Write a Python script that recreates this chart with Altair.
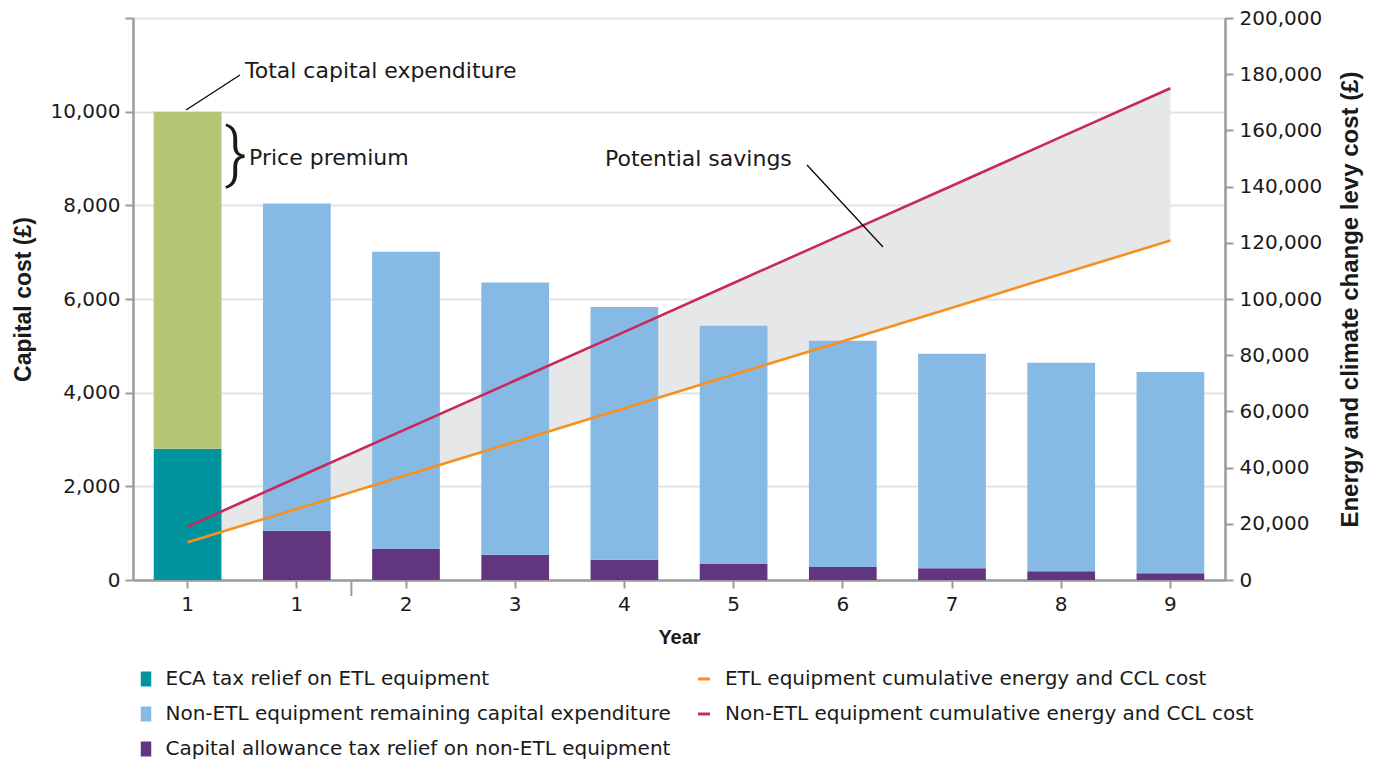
import altair as alt
import pandas as pd

# ---------------- data ----------------
categories = ["ETL-1", "1", "2", "3", "4", "5", "6", "7", "8", "9"]
tick_labels = ["1", "1", "2", "3", "4", "5", "6", "7", "8", "9"]

etl_eca_relief = 2800
etl_total_capex = 10000
nonetl_allowance = [1050, 660, 540, 430, 340, 275, 250, 185, 145]
nonetl_remaining_top = [8040, 7010, 6350, 5830, 5430, 5110, 4830, 4640, 4440]

etl_cum_cost = [13400, 25300, 37300, 49200, 61100, 73100, 85000, 96900, 108900, 120800]
nonetl_cum_cost = [19000, 36400, 53700, 71000, 88300, 105700, 123000, 140300, 157700, 175000]

bar_series = [
    "ECA tax relief on ETL equipment",
    "Non-ETL equipment remaining capital expenditure",
    "Capital allowance tax relief on non-ETL equipment",
    "Total capital expenditure",
]
bar_colors = ["#00959e", "#86b9e3", "#62357f", "#b4c573"]
line_series = [
    "ETL equipment cumulative energy and CCL cost",
    "Non-ETL equipment cumulative energy and CCL cost",
]
line_colors = ["#f7901e", "#c8285a"]

left_ticks = [0, 2000, 4000, 6000, 8000, 10000, 12000]
right_ticks = [0, 20000, 40000, 60000, 80000, 100000, 120000, 140000, 160000, 180000, 200000]

# ---------------- tables ----------------
bar_rows = [
    {"cat": categories[0], "series": bar_series[0], "y0": 0, "y1": etl_eca_relief},
    {"cat": categories[0], "series": bar_series[3], "y0": etl_eca_relief, "y1": etl_total_capex},
]
for c, a, t in zip(categories[1:], nonetl_allowance, nonetl_remaining_top):
    bar_rows.append({"cat": c, "series": bar_series[2], "y0": 0, "y1": a})
    bar_rows.append({"cat": c, "series": bar_series[1], "y0": a, "y1": t})
bars_df = pd.DataFrame(bar_rows)

area_df = pd.DataFrame({"cat": categories, "etl": etl_cum_cost, "nonetl": nonetl_cum_cost})
line_df = pd.concat([
    pd.DataFrame({"cat": categories, "series": line_series[0], "value": etl_cum_cost}),
    pd.DataFrame({"cat": categories, "series": line_series[1], "value": nonetl_cum_cost}),
])

# ---------------- style ----------------
W, H = 1092, 562
STEP = W / len(categories)
FONT = "DejaVu Sans"
BOLD_FONT = "Liberation Sans"
AXIS_GREY = "#9b9b9b"
TEXT = "#1a1a1a"

cat_list = "[" + ",".join(f"'{c}'" for c in categories) + "]"
lab_list = "[" + ",".join(f"'{l}'" for l in tick_labels) + "]"

x_scale = alt.Scale(domain=categories, type="band", paddingInner=0.38, paddingOuter=0.19)
x_axis = alt.Axis(
    title="Year", labelExpr=f"{lab_list}[indexof({cat_list}, datum.value)]",
    labelAngle=0, labelFont=FONT, labelFontSize=20, labelColor=TEXT, labelPadding=6,
    domainColor=AXIS_GREY, domainWidth=2.5, tickColor=AXIS_GREY, tickWidth=2, tickSize=8,
    titleFont=BOLD_FONT, titleFontWeight="bold", titleFontSize=20, titleColor=TEXT,
    titlePadding=13, grid=False,
)

left_scale = alt.Scale(domain=[0, 12000], nice=False)
right_scale = alt.Scale(domain=[0, 200000], nice=False)

left_axis = alt.Axis(
    title="Capital cost (£)", values=left_ticks,
    labelExpr="datum.value >= 12000 ? '' : format(datum.value, ',')",
    labelFont=FONT, labelFontSize=20, labelColor=TEXT, labelPadding=5,
    domainColor=AXIS_GREY, domainWidth=2.5, tickColor=AXIS_GREY, tickWidth=2, tickSize=8,
    grid=True, gridColor="#e3e3e3", gridWidth=2,
    titleFont=BOLD_FONT, titleFontWeight="bold", titleFontSize=23, titleColor=TEXT,
    titlePadding=15, orient="left",
)
right_axis = alt.Axis(
    title="Energy and climate change levy cost (£)", values=right_ticks,
    labelExpr="format(datum.value, ',')",
    labelFont=FONT, labelFontSize=20, labelColor=TEXT, labelPadding=6,
    domainColor=AXIS_GREY, domainWidth=2.5, tickColor=AXIS_GREY, tickWidth=2, tickSize=8,
    grid=False,
    titleFont=BOLD_FONT, titleFontWeight="bold", titleFontSize=24, titleColor=TEXT,
    titleAngle=270, titleAlign="center", titleBaseline="middle",
    titleX=125, titleY=H / 2, orient="right",
)

# ---------------- layers ----------------
area = alt.Chart(area_df).mark_area(color="#e6e7e8", opacity=1).encode(
    x=alt.X("cat:N", scale=x_scale, axis=x_axis, sort=categories, bandPosition=0.5),
    y=alt.Y("etl:Q", scale=right_scale, axis=None),
    y2="nonetl:Q",
)

bar_path = "M-0.7,-1H0.7V1H-0.7Z"
bars = alt.Chart(bars_df).mark_bar().encode(
    x=alt.X("cat:N", scale=x_scale, axis=x_axis, sort=categories),
    y=alt.Y("y1:Q", scale=left_scale, axis=left_axis),
    y2="y0:Q",
    color=alt.Color(
        "series:N",
        scale=alt.Scale(domain=bar_series, range=bar_colors),
        legend=alt.Legend(
            values=bar_series[:3], orient="none", legendX=3, legendY=651,
            title=None, symbolType=bar_path, symbolSize=225, symbolStrokeWidth=0,
            symbolOpacity=1, labelFont=FONT, labelFontSize=20, labelColor=TEXT,
            labelOffset=9.5, rowPadding=15, padding=0, direction="vertical",
            labelLimit=700,
        ),
    ),
)

lines = alt.Chart(line_df).mark_line(strokeWidth=2.6).encode(
    x=alt.X("cat:N", scale=x_scale, axis=x_axis, sort=categories, bandPosition=0.5),
    y=alt.Y("value:Q", scale=right_scale, axis=right_axis),
    stroke=alt.Stroke(
        "series:N",
        scale=alt.Scale(domain=line_series, range=line_colors),
        legend=alt.Legend(
            orient="none", legendX=561, legendY=651, title=None,
            symbolType="stroke", symbolSize=144, symbolStrokeWidth=3,
            labelFont=FONT, labelFontSize=20, labelColor=TEXT,
            labelOffset=11, rowPadding=15, padding=0, direction="vertical",
            labelLimit=700,
        ),
    ),
    detail="series:N",
)

divider = alt.Chart(pd.DataFrame({"cat": [categories[1]]})).mark_rule(
    color=AXIS_GREY, strokeWidth=2, xOffset=STEP / 2
).encode(
    x=alt.X("cat:N", scale=x_scale, axis=x_axis, sort=categories, bandPosition=0.5),
    y=alt.value(H), y2=alt.value(H + 16),
)

one = pd.DataFrame({"k": [0]})


def label(text, x, y, size=22, font=FONT, weight="normal"):
    return alt.Chart(one).mark_text(
        align="left", baseline="alphabetic", font=font, fontSize=size,
        fontWeight=weight, color=TEXT,
    ).encode(x=alt.value(x), y=alt.value(y), text=alt.value(text))


def leader(x, y, x2, y2):
    return alt.Chart(one).mark_rule(color="#000000", strokeWidth=1.2).encode(
        x=alt.value(x), y=alt.value(y), x2=alt.value(x2), y2=alt.value(y2)
    )


brace = alt.Chart(one).mark_text(
    align="center", baseline="middle", font="Roboto", fontWeight=300, fontSize=66,
    color=TEXT,
).encode(x=alt.value(103), y=alt.value(138), text=alt.value("}"))

chart = alt.layer(
    area, bars, lines, divider,
    leader(53, 92, 107, 57),
    label("Total capital expenditure", 112, 59.5),
    brace,
    label("Price premium", 116, 147),
    label("Potential savings", 472, 147.5),
    leader(674, 147, 750, 229),
).resolve_scale(
    y="independent", color="independent", stroke="independent"
).properties(
    width=W, height=H,
    autosize=alt.AutoSizeParams(type="none"),
    padding={"left": 125, "top": 10, "right": 140, "bottom": 180},
).configure_view(stroke=None)

chart.save("out.html", embed_options={"renderer": "svg", "actions": False})
